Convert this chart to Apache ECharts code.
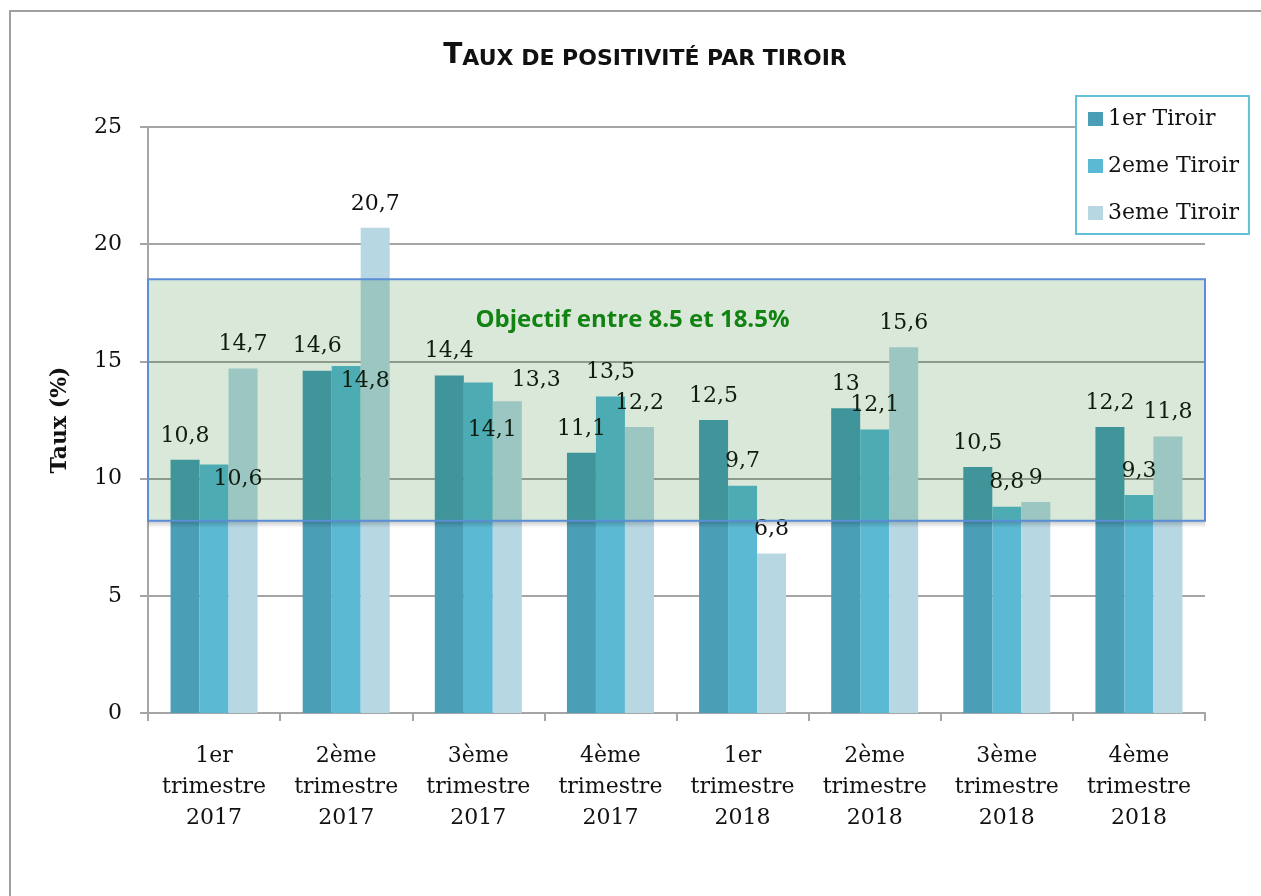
<!DOCTYPE html>
<html>
<head>
<meta charset="utf-8">
<title>Taux de positivité par tiroir</title>
<script src="https://cdn.jsdelivr.net/npm/echarts@6/dist/echarts.min.js"></script>
<style>
  html, body { margin: 0; padding: 0; background: #fff; }
  #chart { width: 1261px; height: 896px; }
</style>
</head>
<body>
<div id="chart"></div>
<script type="text/javascript">
  // trimestres
  var categories = [
    '1er\ntrimestre\n2017', '2ème\ntrimestre\n2017', '3ème\ntrimestre\n2017', '4ème\ntrimestre\n2017',
    '1er\ntrimestre\n2018', '2ème\ntrimestre\n2018', '3ème\ntrimestre\n2018', '4ème\ntrimestre\n2018'
  ];
  var seriesNames = ['1er Tiroir', '2eme Tiroir', '3eme Tiroir'];
  var tiroir1 = [10.8, 14.6, 14.4, 11.1, 12.5, 13, 10.5, 12.2];
  var tiroir2 = [10.6, 14.8, 14.1, 13.5, 9.7, 12.1, 8.8, 9.3];
  var tiroir3 = [14.7, 20.7, 13.3, 12.2, 6.8, 15.6, 9, 11.8];
  var yTicks = [0, 5, 10, 15, 20, 25];
  // zone objectif (telle que dessinée)
  var bandLow = 8.2;
  var bandHigh = 18.5;
  var bandText = 'Objectif entre 8.5 et 18.5%';

  var colors = ['#4A9EB5', '#5BB9D3', '#B7D7E3'];
  var serif = 'DejaVu Serif';

  // étiquettes déplacées (comme dans le graphique d'origine)
  var labelShift = {
    '1-0': [24, 39], '1-1': [19, 39], '1-2': [14, 72],
    '2-2': [29, 3]
  };

  function buildData(values, s) {
    var out = [];
    for (var i = 0; i < values.length; i++) {
      var item = { value: values[i] };
      var sh = labelShift[s + '-' + i];
      if (sh) item.label = { offset: sh };
      out.push(item);
    }
    return out;
  }

  var allValues = [tiroir1, tiroir2, tiroir3];
  var series = [];
  for (var s = 0; s < 3; s++) {
    series.push({
      name: seriesNames[s],
      type: 'bar',
      barWidth: 29,
      barGap: '0%',
      itemStyle: { color: colors[s] },
      label: {
        show: true,
        position: 'top',
        distance: 13,
        color: '#111',
        fontFamily: serif,
        fontSize: 22,
        formatter: function (p) { return String(p.value).replace('.', ','); }
      },
      data: buildData(allValues[s], s)
    });
  }
  // ombre sous la zone
  series.push({
    name: 'ombre',
    type: 'line',
    data: [],
    silent: true,
    markArea: {
      z: 9,
      silent: true,
      itemStyle: {
        color: {
          type: 'linear', x: 0, y: 0, x2: 0, y2: 1,
          colorStops: [{ offset: 0, color: 'rgba(0,0,0,0.22)' }, { offset: 1, color: 'rgba(0,0,0,0)' }]
        }
      },
      label: { show: false },
      data: [[{ yAxis: bandLow - 0.3 }, { yAxis: bandLow }]]
    }
  });
  series.push({
    name: 'zone',
    type: 'line',
    data: [],
    silent: true,
    markArea: {
      z: 10,
      silent: true,
      itemStyle: {
        color: 'rgba(0,100,0,0.15)',
        borderColor: '#5B8ED6',
        borderWidth: 2
      },
      label: {
        show: true,
        position: 'insideTop',
        distance: 30,
        offset: [-44, 0],
        color: '#128212',
        fontFamily: 'Open Sans',
        fontWeight: 'bold',
        fontSize: 24
      },
      data: [[{ yAxis: bandLow, name: bandText }, { yAxis: bandHigh }]]
    }
  });

  var option = {
    animation: false,
    backgroundColor: '#fff',
    color: colors,
    title: {
      left: 640,
      textAlign: 'center',
      top: 37,
      text: '{a|T}{b|AUX DE POSITIVITÉ PAR TIROIR}',
      textStyle: {
        rich: {
          a: { fontFamily: 'DejaVu Sans', fontWeight: 'bold', fontSize: 28, color: '#111', verticalAlign: 'bottom' },
          b: { fontFamily: 'DejaVu Sans', fontWeight: 'bold', fontSize: 22, color: '#111', verticalAlign: 'bottom' }
        }
      }
    },
    legend: {
      data: seriesNames,
      orient: 'vertical',
      left: 1076,
      top: 96,
      icon: 'rect',
      itemWidth: 15,
      itemHeight: 14,
      itemGap: 21,
      padding: [10, 10, 8, 12],
      backgroundColor: '#fff',
      borderColor: '#62C0D8',
      borderWidth: 2,
      textStyle: { fontFamily: serif, fontSize: 22, color: '#111', lineHeight: 26 }
    },
    grid: { left: 148, right: 56, top: 127, bottom: 183 },
    xAxis: {
      type: 'category',
      data: categories,
      axisLine: { lineStyle: { color: '#A5A5A5', width: 2 } },
      axisTick: { show: true, length: 8, lineStyle: { color: '#A5A5A5', width: 2 } },
      axisLabel: { margin: 28, color: '#111', fontFamily: serif, fontSize: 22, lineHeight: 31, interval: 0 }
    },
    yAxis: {
      type: 'value',
      min: yTicks[0],
      max: yTicks[yTicks.length - 1],
      interval: 5,
      name: 'Taux (%)',
      nameLocation: 'middle',
      nameGap: 77,
      nameTextStyle: { fontFamily: serif, fontWeight: 'bold', fontSize: 22, color: '#111' },
      axisLine: { show: true, lineStyle: { color: '#A5A5A5', width: 2 } },
      axisTick: { show: true, length: 8, lineStyle: { color: '#A5A5A5', width: 2 } },
      axisLabel: { margin: 26, color: '#111', fontFamily: serif, fontSize: 22 },
      splitLine: { lineStyle: { color: '#A5A5A5', width: 2 } }
    },
    graphic: [{
      type: 'rect',
      silent: true,
      z: -1,
      shape: { x: 10, y: 11, width: 1300, height: 1000 },
      style: { fill: 'none', stroke: '#A0A0A0', lineWidth: 2 }
    }],
    series: series
  };

  var myChart = echarts.init(document.getElementById('chart'));
  myChart.setOption(option);
</script>
</body>
</html>
